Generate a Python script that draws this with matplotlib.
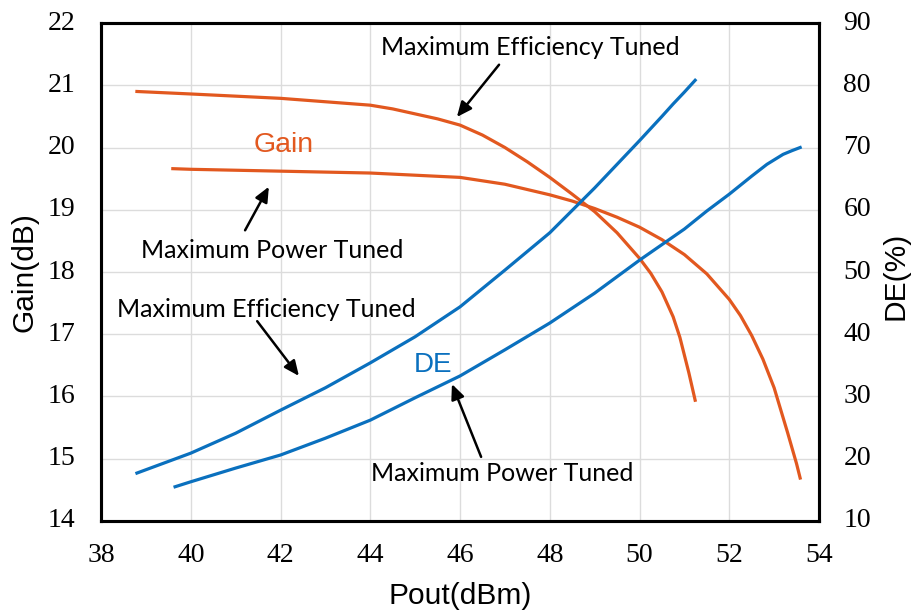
import matplotlib.pyplot as plt
from matplotlib.transforms import ScaledTranslation

# Pout (dBm) / Gain (dB), max efficiency tuned
gain_me_pout = [38.8, 40, 42, 44, 44.5, 45, 45.5, 46, 46.5, 47, 47.5, 48, 48.5, 49, 49.5, 50, 50.25, 50.5, 50.75,
                50.9, 51.1, 51.24]
gain_me = [20.9, 20.86, 20.79, 20.68, 20.62, 20.54, 20.46, 20.36, 20.2, 20.0, 19.77, 19.52, 19.25, 18.97, 18.63, 18.22,
           17.98, 17.68, 17.28, 16.95, 16.38, 15.94]

# Gain, max power tuned
gain_mp_pout = [39.6, 40, 42, 44, 46, 47, 48, 48.5, 49, 49.5, 50, 50.5, 51, 51.5, 52, 52.25, 52.5, 52.75, 53, 53.1,
                53.2, 53.3, 53.4, 53.5, 53.58]
gain_mp = [19.66, 19.65, 19.62, 19.59, 19.52, 19.41, 19.24, 19.14, 19.02, 18.88, 18.72, 18.52, 18.28, 17.97, 17.56,
           17.3, 16.98, 16.6, 16.14, 15.9, 15.66, 15.42, 15.17, 14.92, 14.69]

# DE (%), max efficiency tuned
de_me_pout = [38.8, 40, 41, 42, 43, 44, 45, 46, 47, 48, 48.5, 49, 49.5, 50, 50.5, 50.75, 51, 51.24]
de_me = [17.7, 20.9, 24.1, 27.8, 31.4, 35.4, 39.6, 44.4, 50.3, 56.3, 59.9, 63.5, 67.3, 71.1, 75.0, 77.0, 78.9, 80.8]

# DE, max power tuned
de_mp_pout = [39.65, 40, 41, 42, 43, 44, 45, 46, 47, 48, 49, 50, 51, 51.5, 52, 52.5, 52.84, 53.2, 53.4, 53.58]
de_mp = [15.5, 16.3, 18.5, 20.6, 23.3, 26.2, 29.8, 33.3, 37.5, 41.8, 46.6, 51.9, 56.9, 59.8, 62.5, 65.4, 67.3, 68.9,
         69.5, 70.0]

x_ticks = [38, 40, 42, 44, 46, 48, 50, 52, 54]
gain_ticks = [14, 15, 16, 17, 18, 19, 20, 21, 22]
de_ticks = [10, 20, 30, 40, 50, 60, 70, 80, 90]

ORANGE = "#E2581F"
BLUE = "#0A70BE"
NOTE_FONT = "Lato"
TICK_FONT = "Liberation Serif"
LABEL_FONT = "Liberation Sans"

fig = plt.figure(figsize=(9.16, 6.12), dpi=100)
ax = fig.add_axes([0.1103, 0.1487, 0.7838, 0.8137])
ax2 = ax.twinx()

ax.plot(gain_me_pout, gain_me, color=ORANGE, lw=2.3, zorder=3)
ax.plot(gain_mp_pout, gain_mp, color=ORANGE, lw=2.3, zorder=3)
ax2.plot(de_me_pout, de_me, color=BLUE, lw=2.3, zorder=3)
ax2.plot(de_mp_pout, de_mp, color=BLUE, lw=2.3, zorder=3)

ax.set_xlim(38, 54)
ax.set_ylim(14, 22)
ax2.set_ylim(10, 90)
ax.set_xticks(x_ticks, labels=[])
ax.set_yticks(gain_ticks, labels=[])
ax2.set_yticks(de_ticks, labels=[])
ax.grid(True, color="#dcdcdc", lw=1)
ax.set_axisbelow(True)

for a in (ax, ax2):
    for sp in a.spines.values():
        sp.set_linewidth(2.2)
        sp.set_color("black")
    a.tick_params(length=0)


def offset(dx, dy):
    return ScaledTranslation(dx / 72, dy / 72, fig.dpi_scale_trans)


# tick labels drawn as plain texts so the serif face sticks
tick_style = dict(fontsize=20, fontfamily=TICK_FONT)
for v in x_ticks:
    ax.text(v, 0, str(v), transform=ax.get_xaxis_transform() + offset(0, -24.5),
            ha="center", va="center", **tick_style)
for v in gain_ticks:
    ax.text(0, v, str(v), transform=ax.get_yaxis_transform() + offset(-18.5, 0),
            ha="right", va="center", **tick_style)
for v in de_ticks:
    ax2.text(1, v, str(v), transform=ax2.get_yaxis_transform() + offset(17.5, 0),
             ha="left", va="center", **tick_style)

fig.text(460 / 916, 1 - 596 / 612, "Pout(dBm)", fontsize=21.5, fontfamily=LABEL_FONT, ha="center", va="center")
fig.text(25 / 916, 1 - 272 / 612, "Gain(dB)", fontsize=21.5, fontfamily=LABEL_FONT, rotation=90,
         ha="center", va="center")
fig.text(896 / 916, 1 - 276 / 612, "DE(%)", fontsize=21.5, fontfamily=LABEL_FONT, rotation=90,
         ha="center", va="center")

ax.text(42.06, 20.04, "Gain", color=ORANGE, fontsize=20.5, fontfamily=LABEL_FONT, ha="center", va="center")
ax.text(45.40, 16.51, "DE", color=BLUE, fontsize=20, fontfamily=LABEL_FONT, ha="center", va="center")

arrow = dict(arrowstyle="-|>,head_length=0.9,head_width=0.4", color="black", lw=1.8, shrinkA=0, shrinkB=0)
notes = [
    ("Maximum Efficiency Tuned", (47.56, 21.6), (46.87, 21.33), (45.93, 20.49)),
    ("Maximum Power Tuned", (41.81, 18.34), (41.21, 18.67), (41.74, 19.37)),
    ("Maximum Efficiency Tuned", (41.68, 17.39), (41.48, 17.21), (42.41, 16.33)),
    ("Maximum Power Tuned", (46.94, 14.77), (46.47, 15.03), (45.82, 16.20)),
]
for label, pos, tail, head in notes:
    ax.text(pos[0], pos[1], label, fontsize=18, fontfamily=NOTE_FONT, ha="center", va="center", zorder=5)
    ax.annotate("", xy=head, xytext=tail, arrowprops=arrow, zorder=5)

fig.savefig("out.png", dpi=100)
